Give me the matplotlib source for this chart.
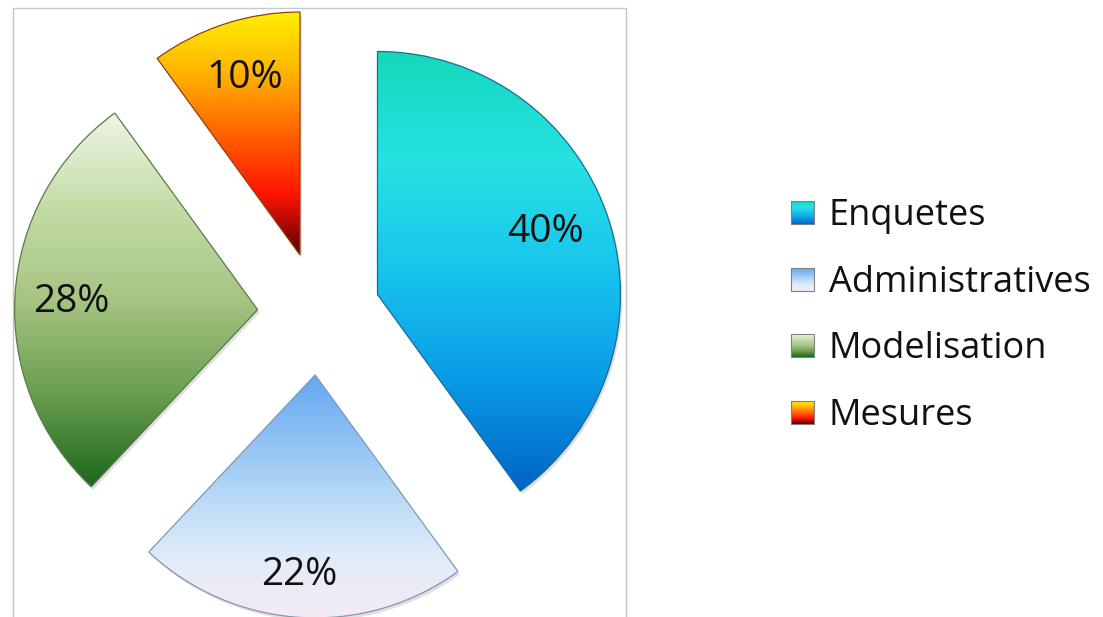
import numpy as np
import matplotlib.pyplot as plt
from matplotlib.colors import LinearSegmentedColormap
from matplotlib.patches import Rectangle, Wedge

plt.rcParams['font.family'] = ['Open Sans', 'DejaVu Sans']

labels = ["Enquetes", "Administratives", "Modelisation", "Mesures"]
values = [40, 22, 28, 10]
pct_labels = ["40%", "22%", "28%", "10%"]

# vertical gradients (top -> bottom) of each slice
grad_colors = [
    ["#14d8bc", "#26e2e2", "#18c4ee", "#0a9ae6", "#0064c4"],
    ["#64a6f2", "#8cc0f4", "#b8daf6", "#e2ecf8", "#f6eaf4"],
    ["#eef6e2", "#c4dca8", "#a6c482", "#6a9e50", "#1c661c"],
    ["#fff000", "#ffb400", "#ff6400", "#ff1400", "#5a0000"],
]
edge_colors = ["#1a6a9a", "#8098b8", "#5a7a4a", "#904010"]

W, H = 1103, 617
fig = plt.figure(figsize=(W / 100, H / 100), dpi=100)
ax = fig.add_axes([0, 0, 1, 1])

center = (319, H - 313.5)
radius = 243
wedges, _ = ax.pie(values, radius=radius, center=center, startangle=90,
                   counterclock=False, explode=[61.5] * 4)

grad = np.linspace(0, 1, 256).reshape(-1, 1)
for w, cols, ec in zip(wedges, grad_colors, edge_colors):
    v = w.get_path().vertices
    x0, x1 = v[:, 0].min(), v[:, 0].max()
    y0, y1 = v[:, 1].min(), v[:, 1].max()
    cmap = LinearSegmentedColormap.from_list("g", cols)
    # soft shadow
    sh = Wedge((w.center[0] + 2, w.center[1] - 3), w.r, w.theta1, w.theta2,
               facecolor="black", alpha=0.12, edgecolor="none", zorder=1)
    ax.add_patch(sh)
    im = ax.imshow(grad, extent=[x0, x1, y0, y1], cmap=cmap, aspect="auto",
                   origin="upper", zorder=2, interpolation="bilinear")
    im.set_clip_path(w)
    w.set_facecolor("none")
    w.set_edgecolor(ec)
    w.set_linewidth(0.9)
    w.set_zorder(3)

# percentage labels (x centre, baseline y in pixels from top)
pct_pos = [(545, 242), (299, 585), (71, 312), (245, 88)]
for txt, (px, py) in zip(pct_labels, pct_pos):
    ax.text(px, H - py, txt, fontsize=28, ha="center", va="baseline",
            color="#111111", zorder=5)

# plot area frame
ax.add_patch(Rectangle((13, -5), 613, H - 8 + 5, facecolor="none",
                       edgecolor="#c8c8c8", linewidth=1.0, zorder=0))

# legend
for i, (lab, cols) in enumerate(zip(labels, grad_colors)):
    base = 225 + 66.7 * i
    cy = base - 12.5
    sq = Rectangle((791, H - cy - 11.5), 23, 23, facecolor="none",
                   edgecolor="#808080", linewidth=0.8, zorder=4)
    ax.add_patch(sq)
    cmap = LinearSegmentedColormap.from_list("g", cols)
    im = ax.imshow(grad, extent=[791, 814, H - cy - 11.5, H - cy + 11.5],
                   cmap=cmap, aspect="auto", origin="upper", zorder=3)
    im.set_clip_path(sq)
    ax.text(829, H - base, lab, fontsize=26, ha="left", va="baseline",
            color="#111111")

ax.set_xlim(0, W)
ax.set_ylim(0, H)
ax.set_aspect("auto")
ax.axis("off")

fig.savefig("out.png", dpi=100)
